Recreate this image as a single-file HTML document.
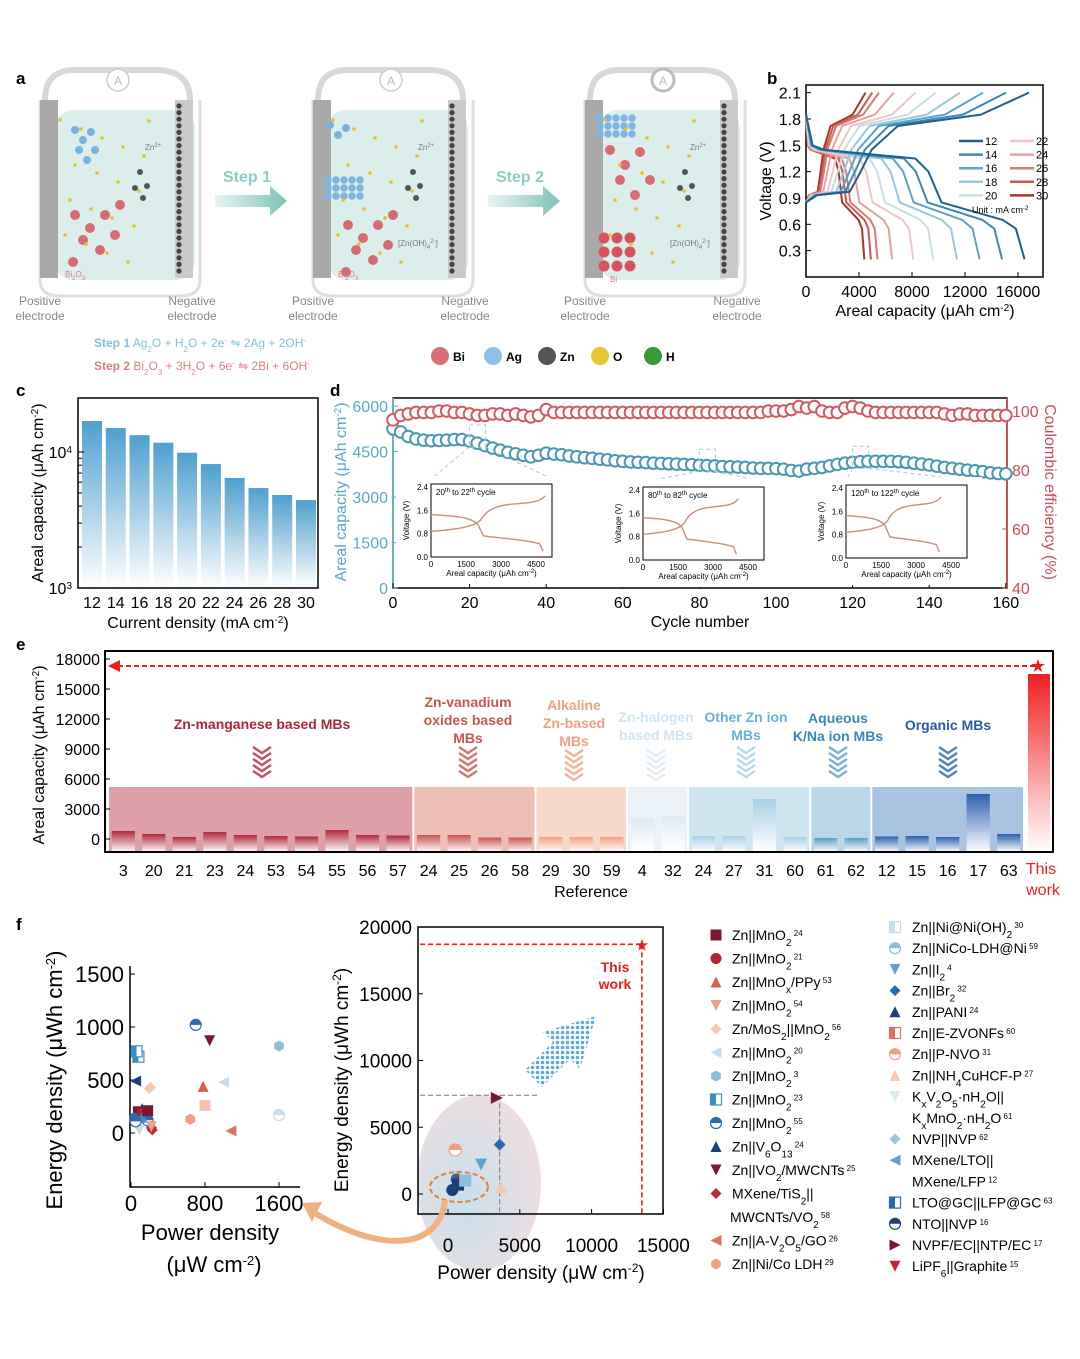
<!DOCTYPE html>
<html><head><meta charset="utf-8">
<style>
html,body{margin:0;padding:0;background:#fff;}
svg{display:block;font-family:"Liberation Sans",Arial,sans-serif;}
</style></head>
<body>
<svg id="fig" width="1080" height="1359" viewBox="0 0 1080 1359" xmlns="http://www.w3.org/2000/svg">
<defs>
<linearGradient id="barC" x1="0" y1="0" x2="0" y2="1"><stop offset="0" stop-color="#4f9fcf"/><stop offset="1" stop-color="#ffffff"/></linearGradient>
<linearGradient id="thisW" x1="0" y1="0" x2="0" y2="1"><stop offset="0" stop-color="#f02020"/><stop offset="1" stop-color="#ffffff"/></linearGradient>
<linearGradient id="arrowG" x1="0" y1="0" x2="1" y2="0"><stop offset="0" stop-color="#eaf5f3"/><stop offset="1" stop-color="#7cc3b8"/></linearGradient>
<radialGradient id="ell" cx="0.4" cy="0.6" r="0.7"><stop offset="0" stop-color="#b9d7e8"/><stop offset="1" stop-color="#efd6d6"/></radialGradient>
<pattern id="dots" width="5" height="5" patternUnits="userSpaceOnUse"><rect width="5" height="5" fill="#fff"/><circle cx="2.5" cy="2.5" r="1.8" fill="#5fa8e0"/></pattern>
</defs>
<g id="panelA"></g>
<g id="panelB"></g>
<g id="panelC"></g>
<g id="panelD"></g>
<g id="panelE"></g>
<g id="panelF"></g>
</svg>
<script>
// ---------- data ----------
const bRates = [12,14,16,18,20,22,24,26,28,30];
const bCapacity = [16500,14800,13100,11400,9600,8100,6500,5400,4900,4400];
const bColors = ["#1f5f8b","#3b87b5","#5ea3c9","#9cc7d9","#c6dfe3","#f2c4c4","#e8a0a0","#d97a76","#c85a50","#a8342c"];
const bDisFrac = [0,0.03,0.08,0.5,0.56,0.62,0.9,0.96,1];
const bDisV = [1.85,1.5,1.45,1.35,1.2,0.85,0.65,0.55,0.2];
const bChaFrac = [0,0.05,0.2,0.25,0.3,0.42,0.8,1.02];
const bChaV = [0.85,0.93,0.97,1.2,1.45,1.72,1.85,2.1];

const cLabels = [12,14,16,18,20,22,24,26,28,30];
const cValues = [16900,15000,13300,11700,9870,8150,6440,5430,4830,4430];

const dCycles = [0,2,4,6,8,10,12,14,16,18,20,22,24,26,28,30,32,34,36,38,40,42,44,46,48,50,52,54,56,58,60,62,64,66,68,70,72,74,76,78,80,82,84,86,88,90,92,94,96,98,100,102,104,106,108,110,112,114,116,118,120,122,124,126,128,130,132,134,136,138,140,142,144,146,148,150,152,154,156,158,160];
const dCapacity = [5250,5150,5000,4920,4880,4860,4870,4880,4900,4900,4850,4780,4700,4620,4550,4480,4430,4380,4330,4380,4450,4420,4400,4360,4330,4300,4280,4250,4230,4200,4180,4160,4150,4140,4120,4110,4100,4090,4080,4070,4050,4040,4030,4010,4000,3990,3980,3960,3950,3950,3940,3920,3880,3860,3920,3950,3980,4030,4080,4120,4150,4170,4180,4180,4180,4180,4170,4150,4120,4090,4060,4020,3980,3950,3920,3890,3870,3840,3800,3780,3770];
const dCE = [97,98.5,99,99.5,99.5,99.5,100,100,99.5,99.5,
99,98.5,98.5,99,99,98.5,99,98.5,98,98.5,
100.5,99.5,99.5,99.5,99.5,99.5,99.5,99.5,99.5,99.5,
99.5,99.5,99.5,99.5,99.5,99.5,99.5,99.5,99.5,99.5,
99.5,99.5,99.5,99.5,99.5,99.5,99.5,99.5,99.5,100,
100,100,100.5,101.5,101,101.5,100,99.5,99.5,101,
101.5,101,100,99.5,99.5,99.5,99.5,99.5,99.5,99.5,
99.5,99.5,99,98.5,99,99,98.5,98.5,98.5,98.5,
98.5];

const eLabels = ["3","20","21","23","24","53","54","55","56","57","24","25","26","58","29","30","59","4","32","24","27","31","60","61","62","12","15","16","17","63"];
const eValues = [800,500,200,700,400,300,250,900,400,350,400,400,150,150,200,200,200,2000,2300,300,300,4000,200,100,100,250,300,200,4500,500];
const eGroup = [0,0,0,0,0,0,0,0,0,0,1,1,1,1,2,2,2,3,3,4,4,4,4,5,5,6,6,6,6,6];
const eThisWork = 16500;

const fLeftX = [80,40,120,220,130,80,60,180,200,230,700,50,90,120,850,180,210,1000,1080,640,1600,1600,800,220,780,50];
const fLeftY = [200,140,230,50,180,720,770,120,420,30,1020,490,30,150,870,210,430,480,20,130,820,170,260,60,440,110];
const fLeftM = ["sq","ci","tr","di","sq","hs","hs","hc","di","di","hc","lt","it","tr","it","sq","di","lt","lt","hx","hx","hc","sq","it","tr","hc"];
const fLeftC = ["#7b1530","#2a6aaf","#1a3f7a","#c0283a","#b22235","#3a8cc4","#3a8cc4","#2a6aaf","#f5c8b0","#c0283a","#2a6aaf","#1a3f7a","#c8dbe8","#3a8cc4","#7b1530","#7b1530","#f5c8b0","#c8dbe8","#e07060","#f0a080","#8cbfdc","#c8dbe8","#f5c0b0","#f0a080","#d9604a","#2a6aaf"];
const fRightX = [3400,3600,500,2300,3700,600,900,700,1200,300];
const fRightY = [7200,3700,3300,2200,500,1100,900,700,1000,300];
const fRightM = ["rt","di","hc","it","tr","ci","it","sq","sq","ci"];
const fRightC = ["#7b1530","#2a6aaf","#f0a080","#5ea3c9","#f5c8b0","#2a6aaf","#c0283a","#1a3f7a","#8cbfdc","#1a3f7a"];
const fThisX = 13500, fThisY = 18700;

const legendL = [["Zn||MnO<tspan baseline-shift='sub' font-size='10'>2</tspan>","24","sq","#7b1530"],["Zn||MnO<tspan baseline-shift='sub' font-size='10'>2</tspan>","21","ci","#b22235"],["Zn||MnO<tspan baseline-shift='sub' font-size='10'>x</tspan>/PPy","53","tr","#d9604a"],["Zn||MnO<tspan baseline-shift='sub' font-size='10'>2</tspan>","54","it","#f0a080"],["Zn/MoS<tspan baseline-shift='sub' font-size='10'>2</tspan>||MnO<tspan baseline-shift='sub' font-size='10'>2</tspan>","56","di","#f5c8b0"],["Zn||MnO<tspan baseline-shift='sub' font-size='10'>2</tspan>","20","lt","#c8dbe8"],["Zn||MnO<tspan baseline-shift='sub' font-size='10'>2</tspan>","3","hx","#8cbfdc"],["Zn||MnO<tspan baseline-shift='sub' font-size='10'>2</tspan>","23","hs","#3a8cc4"],["Zn||MnO<tspan baseline-shift='sub' font-size='10'>2</tspan>","55","hc","#2a6aaf"],["Zn||V<tspan baseline-shift='sub' font-size='10'>6</tspan>O<tspan baseline-shift='sub' font-size='10'>13</tspan>","24","tr","#1a3f7a"],["Zn||VO<tspan baseline-shift='sub' font-size='10'>2</tspan>/MWCNTs","25","it","#7b1530"],["MXene/TiS<tspan baseline-shift='sub' font-size='10'>2</tspan>||","","di","#c0283a"],["MWCNTs/VO<tspan baseline-shift='sub' font-size='10'>2</tspan>","58","",""],["Zn||A-V<tspan baseline-shift='sub' font-size='10'>2</tspan>O<tspan baseline-shift='sub' font-size='10'>5</tspan>/GO","26","lt","#e07060"],["Zn||Ni/Co LDH","29","hx","#f0a080"]];
const legendR = [["Zn||Ni@Ni(OH)<tspan baseline-shift='sub' font-size='10'>2</tspan>","30","hs","#c8dbe8"],["Zn||NiCo-LDH@Ni","59","hc","#8cbfdc"],["Zn||I<tspan baseline-shift='sub' font-size='10'>2</tspan>","4","it","#5ea3c9"],["Zn||Br<tspan baseline-shift='sub' font-size='10'>2</tspan>","32","di","#2a6aaf"],["Zn||PANI","24","tr","#1a3f7a"],["Zn||E-ZVONFs","60","hs","#e07060"],["Zn||P-NVO","31","hc","#f0a080"],["Zn||NH<tspan baseline-shift='sub' font-size='10'>4</tspan>CuHCF-P","27","tr","#f5c8b0"],["K<tspan baseline-shift='sub' font-size='10'>x</tspan>V<tspan baseline-shift='sub' font-size='10'>2</tspan>O<tspan baseline-shift='sub' font-size='10'>5</tspan>·nH<tspan baseline-shift='sub' font-size='10'>2</tspan>O||","","it","#d8ece8"],["K<tspan baseline-shift='sub' font-size='10'>x</tspan>MnO<tspan baseline-shift='sub' font-size='10'>2</tspan>·nH<tspan baseline-shift='sub' font-size='10'>2</tspan>O","61","",""],["NVP||NVP","62","di","#9cc7d9"],["MXene/LTO||","","lt","#5ea3c9"],["MXene/LFP","12","",""],["LTO@GC||LFP@GC","63","hs","#2a6aaf"],["NTO||NVP","16","hc","#1a3f7a"],["NVPF/EC||NTP/EC","17","rt","#7b1530"],["LiPF<tspan baseline-shift='sub' font-size='10'>6</tspan>||Graphite","15","it","#c0283a"]];

// ---------- helpers ----------
const NS="http://www.w3.org/2000/svg";
function el(parent,tag,attrs,text){const e=document.createElementNS(NS,tag);for(const k in attrs)e.setAttribute(k,attrs[k]);if(text!==undefined)e.innerHTML=text;parent.appendChild(e);return e;}
function marker(g,type,x,y,c,s){
  s=s||6;let e;
  if(type==="sq")e=el(g,"rect",{x:x-s,y:y-s,width:2*s,height:2*s,fill:c});
  else if(type==="ci")e=el(g,"circle",{cx:x,cy:y,r:s,fill:c});
  else if(type==="tr")e=el(g,"polygon",{points:`${x},${y-s} ${x+s},${y+s} ${x-s},${y+s}`,fill:c});
  else if(type==="it")e=el(g,"polygon",{points:`${x-s},${y-s} ${x+s},${y-s} ${x},${y+s}`,fill:c});
  else if(type==="di")e=el(g,"polygon",{points:`${x},${y-s} ${x+s},${y} ${x},${y+s} ${x-s},${y}`,fill:c});
  else if(type==="lt")e=el(g,"polygon",{points:`${x-s},${y} ${x+s},${y-s} ${x+s},${y+s}`,fill:c});
  else if(type==="rt")e=el(g,"polygon",{points:`${x+s},${y} ${x-s},${y-s} ${x-s},${y+s}`,fill:c});
  else if(type==="hx"){let p=[];for(let i=0;i<6;i++){const a=Math.PI/3*i+Math.PI/6;p.push((x+s*Math.cos(a)).toFixed(1)+","+(y+s*Math.sin(a)).toFixed(1));}e=el(g,"polygon",{points:p.join(" "),fill:c});}
  else if(type==="hs"){e=el(g,"rect",{x:x-s,y:y-s,width:2*s,height:2*s,fill:"#fff",stroke:c,"stroke-width":1.2});el(g,"rect",{x:x-s,y:y-s,width:s,height:2*s,fill:c});}
  else if(type==="hc"){e=el(g,"circle",{cx:x,cy:y,r:s,fill:"#fff",stroke:c,"stroke-width":1.2});el(g,"path",{d:`M${x-s},${y} A${s},${s} 0 0 1 ${x+s},${y} Z`,fill:c});}
  return e;
}

// ---------- panel a ----------
(function(){
const g=document.getElementById("panelA");
el(g,"text",{x:16,y:84,"font-size":17,"font-weight":"bold"},"a");
const cells=[35,308,580];
cells.forEach((cx,i)=>{
  const cg=el(g,"g",{});
  
  
  el(cg,"path",{d:`M${cx+10},${100} Q${cx+10},${70} ${cx+40},${70} L${cx+120},${70} Q${cx+155},${70} ${cx+155},${100}`,fill:"none",stroke:"#d8d8d8","stroke-width":6});
  el(cg,"circle",{cx:cx+83,cy:80,r:11,fill:"#fff",stroke:i==2?"#bbb":"#ccc","stroke-width":i==2?3:1.5});
  el(cg,"text",{x:cx+83,y:85,"font-size":12,fill:"#bbb","text-anchor":"middle"},"A");
  el(cg,"path",{d:`M${cx+5},${100} L${cx+5},${280} Q${cx+5},${296} ${cx+25},${296} L${cx+145},${296} Q${cx+165},${296} ${cx+165},${280} L${cx+165},${100}`,fill:"none",stroke:"#dedede","stroke-width":3});
  el(cg,"rect",{x:cx+20,y:110,width:140,height:170,rx:18,fill:"#d7ecea",opacity:0.9});
  el(cg,"rect",{x:cx+5,y:100,width:18,height:178,fill:"#a9a9a9"});
  el(cg,"rect",{x:cx+140,y:100,width:18,height:178,fill:"#c9c9c9"});
  for(let k=0;k<26;k++)el(cg,"circle",{cx:cx+144,cy:106+k*6.6,r:2.6,fill:"#444"});
  const ag=i==0?[[40,130],[48,140],[56,132],[44,150],[52,160],[60,150]]:i==1?[[22,125],[30,135],[38,128]]:[];
  ag.forEach(p=>el(cg,"circle",{cx:cx+p[0],cy:p[1],r:4,fill:"#79b3e0"}));
  if(i>0){const yy=i==1?180:118;for(let r=0;r<3;r++)for(let c=0;c<5;c++)el(cg,"circle",{cx:cx+20+c*8,cy:yy+r*8,r:3.7,fill:"#7db6e3"});}
  const bi=i<2?[[40,215],[55,228],[70,215],[48,240],[65,250],[38,262],[80,235],[85,205]]:[[30,150],[45,165],[60,152],[40,180],[55,195],[70,180]];
  bi.forEach(p=>el(cg,"circle",{cx:cx+p[0],cy:p[1]+(i==1?10:0),r:5,fill:"#d66b72"}));
  if(i==2){for(let r=0;r<3;r++)for(let c=0;c<3;c++)el(cg,"circle",{cx:cx+24+c*13,cy:238+r*14,r:5.5,fill:"#d9535e"});}
  for(let k=0;k<18;k++)el(cg,"circle",{cx:cx+25+((k*37)%90),cy:120+((k*53)%150),r:1.8,fill:"#e8c020"});
  [[105,172],[100,188],[112,186],[108,198]].forEach(p=>el(cg,"circle",{cx:cx+p[0],cy:p[1],r:3,fill:"#555"}));
  el(cg,"text",{x:cx+110,y:150,"font-size":8,fill:"#777"},"Zn<tspan baseline-shift='super' font-size='6'>2+</tspan>");
  if(i>0)el(cg,"text",{x:cx+90,y:246,"font-size":8,fill:"#777"},"[Zn(OH)<tspan baseline-shift='sub' font-size='6'>4</tspan><tspan baseline-shift='super' font-size='6'>2-</tspan>]");
  el(cg,"text",{x:cx+30,y:i==2?282:277,"font-size":8,fill:"#e07a80"},i==2?"Bi":"Bi<tspan baseline-shift='sub' font-size='6'>2</tspan>O<tspan baseline-shift='sub' font-size='6'>3</tspan>");
  el(cg,"text",{x:cx+5,y:305,"font-size":12,fill:"#888","text-anchor":"middle"},"Positive");
  el(cg,"text",{x:cx+5,y:320,"font-size":12,fill:"#888","text-anchor":"middle"},"electrode");
  el(cg,"text",{x:cx+157,y:305,"font-size":12,fill:"#888","text-anchor":"middle"},"Negative");
  el(cg,"text",{x:cx+157,y:320,"font-size":12,fill:"#888","text-anchor":"middle"},"electrode");
});
[[215,"Step 1"],[488,"Step 2"]].forEach(s=>{
  el(g,"polygon",{points:`${s[0]},195 ${s[0]+55},195 ${s[0]+55},186 ${s[0]+72},201 ${s[0]+55},216 ${s[0]+55},207 ${s[0]},207`,fill:"url(#arrowG)"});
  el(g,"text",{x:s[0]+32,y:182,"font-size":16,"font-weight":"bold",fill:"#8ccdc3","text-anchor":"middle"},s[1]);
});
el(g,"text",{x:94,y:347,"font-size":12,fill:"#86bcd8"},"<tspan font-weight='bold'>Step 1</tspan>  Ag<tspan baseline-shift='sub' font-size='8'>2</tspan>O + H<tspan baseline-shift='sub' font-size='8'>2</tspan>O + 2e<tspan baseline-shift='super' font-size='8'>-</tspan> ⇋ 2Ag + 2OH<tspan baseline-shift='super' font-size='8'>-</tspan>");
el(g,"text",{x:94,y:370,"font-size":12,fill:"#e27c84"},"<tspan font-weight='bold'>Step 2</tspan>  Bi<tspan baseline-shift='sub' font-size='8'>2</tspan>O<tspan baseline-shift='sub' font-size='8'>3</tspan> + 3H<tspan baseline-shift='sub' font-size='8'>2</tspan>O + 6e<tspan baseline-shift='super' font-size='8'>-</tspan> ⇋ 2Bi + 6OH<tspan baseline-shift='super' font-size='8'>-</tspan>");
[["Bi","#d8707a",440],["Ag","#8cc2e8",493],["Zn","#555",547],["O","#e8c830",600],["H","#3a9a3a",653]].forEach(b=>{
  const bg=el(g,"g",{});
  
  
  el(bg,"circle",{cx:b[2],cy:356,r:9,fill:b[1]});
  el(bg,"text",{x:b[2]+13,y:361,"font-size":12,"font-weight":"bold"},b[0]);
});
})();

// ---------- panel b ----------
(function(){
const g=document.getElementById("panelB");
const X=v=>806+v*0.01325, Y=v=>277-v*87.8;
el(g,"text",{x:767,y:84,"font-size":17,"font-weight":"bold"},"b");
el(g,"rect",{x:806,y:85,width:237,height:192,fill:"none",stroke:"#000","stroke-width":1.5});
[0.3,0.6,0.9,1.2,1.5,1.8,2.1].forEach(v=>{el(g,"line",{x1:806,x2:811,y1:Y(v),y2:Y(v),stroke:"#000"});el(g,"text",{x:801,y:Y(v)+6,"font-size":16,"text-anchor":"end"},v.toFixed(1));});
[0,4000,8000,12000,16000].forEach(v=>{el(g,"line",{x1:X(v),x2:X(v),y1:277,y2:272,stroke:"#000"});el(g,"text",{x:X(v),y:297,"font-size":16,"text-anchor":"middle"},v);});
el(g,"text",{x:925,y:316,"font-size":16,"text-anchor":"middle"},"Areal capacity (μAh cm<tspan baseline-shift='super' font-size='10'>-2</tspan>)");
el(g,"text",{x:0,y:0,"font-size":16,"text-anchor":"middle",transform:"translate(771,181) rotate(-90)"},"Voltage (V)");
for(let i=bRates.length-1;i>=0;i--){
  const C=bCapacity[i];
  const d="M"+bDisFrac.map((f,k)=>X(f*C).toFixed(1)+","+Y(bDisV[k]).toFixed(1)).join(" L");
  const c="M"+bChaFrac.map((f,k)=>X(f*C).toFixed(1)+","+Y(bChaV[k]).toFixed(1)).join(" L");
  const p1=el(g,"path",{d:d,fill:"none",stroke:bColors[i],"stroke-width":2,"stroke-linejoin":"round"});
  
  
  const p2=el(g,"path",{d:c,fill:"none",stroke:bColors[i],"stroke-width":2,"stroke-linejoin":"round"});
  
  
}
bRates.forEach((r,i)=>{
  const col=i<5?0:1, row=i%5;
  const lx=959+col*51, ly=141+row*13.6;
  const lg=el(g,"g",{});
  
  
  el(lg,"line",{x1:lx,x2:lx+24,y1:ly,y2:ly,stroke:bColors[i],"stroke-width":2.5});
  el(lg,"text",{x:lx+26,y:ly+4,"font-size":11},r);
});
el(g,"text",{x:972,y:213,"font-size":9},"Unit : mA cm<tspan baseline-shift='super' font-size='6'>-2</tspan>");
})();

// ---------- panel c ----------
(function(){
const g=document.getElementById("panelC");
const Y=v=>588-(Math.log10(v)-3)*136;
el(g,"text",{x:16,y:396,"font-size":17,"font-weight":"bold"},"c");
const bw=20, step=(306-92)/9;
cValues.forEach((v,i)=>{
  const x=92+step*i;
  const r=el(g,"rect",{x:x-bw/2,y:Y(v),width:bw,height:588-Y(v),fill:"url(#barC)"});
  
  
  el(g,"text",{x:x,y:608,"font-size":16,"text-anchor":"middle"},cLabels[i]);
});
el(g,"rect",{x:78,y:398,width:240,height:190,fill:"none",stroke:"#000","stroke-width":1.5});
el(g,"text",{x:72,y:458,"font-size":16,"text-anchor":"end"},"10<tspan baseline-shift='super' font-size='10'>4</tspan>");
el(g,"text",{x:72,y:594,"font-size":16,"text-anchor":"end"},"10<tspan baseline-shift='super' font-size='10'>3</tspan>");
for(let k=2;k<10;k++){const y=Y(k*1000);el(g,"line",{x1:78,x2:82,y1:y,y2:y,stroke:"#000"});}
el(g,"line",{x1:78,x2:84,y1:Y(10000),y2:Y(10000),stroke:"#000"});
el(g,"text",{x:198,y:628,"font-size":16,"text-anchor":"middle"},"Current density (mA cm<tspan baseline-shift='super' font-size='10'>-2</tspan>)");
el(g,"text",{x:0,y:0,"font-size":16,"text-anchor":"middle",transform:"translate(43,493) rotate(-90)"},"Areal capacity (μAh cm<tspan baseline-shift='super' font-size='10'>-2</tspan>)");
})();

// ---------- panel d ----------
(function(){
const g=document.getElementById("panelD");
const X=v=>393+v*3.83, Y=v=>588-v*0.0303, Y2=v=>588-(v-40)*2.95;
el(g,"text",{x:330,y:396,"font-size":17,"font-weight":"bold"},"d");
el(g,"rect",{x:393,y:398,width:614,height:190,fill:"none",stroke:"#000","stroke-width":1.5});
el(g,"line",{x1:393,x2:393,y1:398,y2:588,stroke:"#6aaed0","stroke-width":2});
el(g,"line",{x1:1007,x2:1007,y1:398,y2:588,stroke:"#c9505a","stroke-width":2});
[0,1500,3000,4500,6000].forEach(v=>{el(g,"text",{x:388,y:Y(v)+6,"font-size":16,fill:"#5aa6cc","text-anchor":"end"},v);el(g,"line",{x1:393,x2:398,y1:Y(v),y2:Y(v),stroke:"#5aa6cc"});});
[40,60,80,100].forEach(v=>{el(g,"text",{x:1012,y:Y2(v)+6,"font-size":16,fill:"#c9505a"},v);el(g,"line",{x1:1002,x2:1007,y1:Y2(v),y2:Y2(v),stroke:"#c9505a"});});
[0,20,40,60,80,100,120,140,160].forEach(v=>{el(g,"text",{x:X(v),y:608,"font-size":16,"text-anchor":"middle"},v);el(g,"line",{x1:X(v),x2:X(v),y1:588,y2:583,stroke:"#000"});});
el(g,"text",{x:700,y:627,"font-size":16,"text-anchor":"middle"},"Cycle number");
el(g,"text",{x:0,y:0,"font-size":16,fill:"#5aa6cc","text-anchor":"middle",transform:"translate(346,492) rotate(-90)"},"Areal capacity (μAh cm<tspan baseline-shift='super' font-size='10'>-2</tspan>)");
el(g,"text",{x:0,y:0,"font-size":16,fill:"#c9505a","text-anchor":"middle",transform:"translate(1045,492) rotate(90)"},"Coulombic efficiency (%)");
el(g,"polyline",{points:dCycles.map((c,i)=>X(c).toFixed(1)+","+(Y(dCapacity[i])+2).toFixed(1)).join(" "),fill:"none",stroke:"#e8c050","stroke-width":9,opacity:0.6});
dCycles.forEach((c,i)=>{
  const p=el(g,"circle",{cx:X(c),cy:Y(dCapacity[i]),r:5.8,fill:"#fff",stroke:"#4a96b8","stroke-width":2});
  
  
  const q=el(g,"circle",{cx:X(c),cy:Y2(dCE[i]),r:5.8,fill:"#fff",stroke:"#d25a60","stroke-width":2});
  
  
});
const insets=[[431,484,"20<tspan baseline-shift='super' font-size='6'>th</tspan> to 22<tspan baseline-shift='super' font-size='6'>th</tspan> cycle",20,4800],[643,487,"80<tspan baseline-shift='super' font-size='6'>th</tspan> to 82<tspan baseline-shift='super' font-size='6'>th</tspan> cycle",80,4000],[846,485,"120<tspan baseline-shift='super' font-size='6'>th</tspan> to 122<tspan baseline-shift='super' font-size='6'>th</tspan> cycle",120,4000]];
insets.forEach((s,k)=>{
  const ig=el(g,"g",{});
  
  
  const x0=s[0],y0=s[1],w=121,h=73;
  const zx=X(s[3])+8, zy=Y(dCapacity[dCycles.indexOf(s[3])])-6;
  el(ig,"rect",{x:zx-8,y:zy-10,width:16,height:22,fill:"none",stroke:"#9dd0c8","stroke-dasharray":"4,3"});
  el(ig,"line",{x1:zx-8,y1:zy+12,x2:x0,y2:y0-5,stroke:"#9dd0c8","stroke-dasharray":"4,3"});
  el(ig,"line",{x1:zx+8,y1:zy+12,x2:x0+w,y2:y0-5,stroke:"#9dd0c8","stroke-dasharray":"4,3"});
  el(ig,"rect",{x:x0-35,y:y0-8,width:w+50,height:h+35,fill:"#fff"});
  el(ig,"rect",{x:x0,y:y0,width:w,height:h,fill:"none",stroke:"#000"});
  const ix=v=>x0+v/4500*105, iy=v=>y0+h-v/2.4*(h-3);
  [0,0.8,1.6,2.4].forEach(v=>el(ig,"text",{x:x0-3,y:iy(v)+3,"font-size":8,"text-anchor":"end"},v.toFixed(1)));
  [0,1500,3000,4500].forEach(v=>el(ig,"text",{x:ix(v),y:y0+h+10,"font-size":8,"text-anchor":"middle"},v));
  el(ig,"text",{x:x0+w/2,y:y0+h+19,"font-size":8,"text-anchor":"middle"},"Areal capacity (μAh cm<tspan baseline-shift='super' font-size='6'>-2</tspan>)");
  el(ig,"text",{x:0,y:0,"font-size":8,"text-anchor":"middle",transform:`translate(${x0-22},${y0+h/2}) rotate(-90)`},"Voltage (V)");
  el(ig,"text",{x:x0+5,y:y0+11,"font-size":8},s[2]);
  const C=s[4];
  el(ig,"path",{d:`M${ix(0)},${iy(1.45)} C${ix(C*0.3)},${iy(1.4)} ${ix(C*0.38)},${iy(1.3)} ${ix(C*0.42)},${iy(1.1)} L${ix(C*0.47)},${iy(0.72)} C${ix(C*0.7)},${iy(0.62)} ${ix(C*0.9)},${iy(0.55)} ${ix(C*0.97)},${iy(0.45)} L${ix(C)},${iy(0.2)}`,fill:"none",stroke:"#c9907a","stroke-width":1.4});
  el(ig,"path",{d:`M${ix(0)},${iy(0.88)} C${ix(C*0.25)},${iy(0.95)} ${ix(C*0.4)},${iy(1.05)} ${ix(C*0.45)},${iy(1.3)} C${ix(C*0.5)},${iy(1.65)} ${ix(C*0.6)},${iy(1.78)} ${ix(C*0.75)},${iy(1.82)} C${ix(C*0.9)},${iy(1.86)} ${ix(C*0.98)},${iy(1.9)} ${ix(C*1.02)},${iy(2.1)}`,fill:"none",stroke:"#c9907a","stroke-width":1.4});
});
})();

// ---------- panel e ----------
(function(){
const g=document.getElementById("panelE");
const Y=v=>839-v*0.01, base=852;
el(g,"text",{x:16,y:650,"font-size":17,"font-weight":"bold"},"e");
const x0=108, x1=1024, n=eLabels.length, st=(x1-x0)/n;
const grpCol=["#dea0a8","#eebfb4","#f8d8c8","#eaf2f8","#cfe6f0","#b8d8ea","#a8c4e0"];
const grpTop=["#b02a3a","#c8564e","#f0a080","#dfeaf3","#a8d0e6","#5aa0cc","#2a62ae"];
const grpNames=["Zn-manganese based MBs","Zn-vanadium<br>oxides based<br>MBs","Alkaline<br>Zn-based<br>MBs","Zn-halogen<br>based MBs","Other Zn ion<br>MBs","Aqueous<br>K/Na ion MBs","Organic MBs"];
const grpTxt=["#a8283a","#c8564e","#f0a080","#d2e4f0","#6ab0d8","#3a88c0","#2a5aa6"];
const grpLabX=[262,468,574,656,746,838,948];
const grpLabY=[729,707,710,722,722,723,730];
for(let gi=0;gi<7;gi++){
  const idx=eGroup.map((v,i)=>v===gi?i:-1).filter(i=>i>=0);
  const a=x0+st*idx[0], b=x0+st*(idx[idx.length-1]+1);
  const r=el(g,"rect",{x:a+1,y:Y(5200),width:b-a-2,height:base-Y(5200),fill:grpCol[gi]});
  
  
  const lines=grpNames[gi].split("<br>");
  lines.forEach((t,li)=>el(g,"text",{x:grpLabX[gi],y:grpLabY[gi]+li*18,"font-size":14,"font-weight":"bold",fill:grpTxt[gi],"text-anchor":"middle"},t));
  for(let c=0;c<5;c++){const cy=747+c*6-(gi==2||gi==3?-3:0);el(g,"polyline",{points:`${grpLabX[gi]-9},${cy} ${grpLabX[gi]},${cy+6} ${grpLabX[gi]+9},${cy}`,fill:"none",stroke:grpTop[gi],"stroke-width":2.5,opacity:0.8});}
}
for(let gi=0;gi<7;gi++){el(g,"linearGradient",{id:"eg"+gi,x1:0,y1:0,x2:0,y2:1},`<stop offset="0" stop-color="${grpTop[gi]}"/><stop offset="1" stop-color="#ffffff"/>`);}
eValues.forEach((v,i)=>{
  const x=x0+st*i+st*0.12;
  const r=el(g,"rect",{x:x,y:Y(v),width:st*0.76,height:base-Y(v),fill:"url(#eg"+eGroup[i]+")"});
  
  
  el(g,"text",{x:x0+st*(i+0.5),y:876,"font-size":16,"text-anchor":"middle"},eLabels[i]);
});
const tw=el(g,"rect",{x:1028,y:Y(eThisWork),width:22,height:base-Y(eThisWork),fill:"url(#thisW)"});


el(g,"text",{x:1041,y:874,"font-size":16,fill:"#ee2020","text-anchor":"middle"},"This");
el(g,"text",{x:1043,y:895,"font-size":16,fill:"#ee2020","text-anchor":"middle"},"work");
el(g,"rect",{x:105,y:651,width:948,height:201,fill:"none",stroke:"#000","stroke-width":2});
el(g,"line",{x1:118,x2:1036,y1:Y(17300),y2:Y(17300),stroke:"#e82020","stroke-width":2,"stroke-dasharray":"5,3"});
el(g,"polygon",{points:`108,${Y(17300)} 120,${Y(17300)-6} 120,${Y(17300)+6}`,fill:"#e82020"});
el(g,"text",{x:1038,y:Y(17300)+6,"font-size":18,fill:"#e82020","text-anchor":"middle"},"★");
[0,3000,6000,9000,12000,15000,18000].forEach(v=>{el(g,"text",{x:100,y:Y(v)+6,"font-size":16,"text-anchor":"end"},v);el(g,"line",{x1:105,x2:110,y1:Y(v),y2:Y(v),stroke:"#000"});});
el(g,"text",{x:591,y:897,"font-size":16,"text-anchor":"middle"},"Reference");
el(g,"text",{x:0,y:0,"font-size":16,"text-anchor":"middle",transform:"translate(44,755) rotate(-90)"},"Areal capacity (μAh cm<tspan baseline-shift='super' font-size='10'>-2</tspan>)");
})();

// ---------- panel f ----------
(function(){
const g=document.getElementById("panelF");
el(g,"text",{x:16,y:930,"font-size":17,"font-weight":"bold"},"f");
const LX=v=>131+v*0.0925, LY=v=>1133-v*0.106;
el(g,"polyline",{points:"130,966 130,1187 300,1187",fill:"none",stroke:"#000","stroke-width":1.5});
[0,500,1000,1500].forEach(v=>{el(g,"text",{x:124,y:LY(v)+8,"font-size":22,"text-anchor":"end"},v);el(g,"line",{x1:130,x2:135,y1:LY(v),y2:LY(v),stroke:"#000"});});
[0,800,1600].forEach(v=>{el(g,"text",{x:LX(v),y:1211,"font-size":22,"text-anchor":"middle"},v);el(g,"line",{x1:LX(v),x2:LX(v),y1:1187,y2:1182,stroke:"#000"});});
el(g,"text",{x:210,y:1240,"font-size":22,"text-anchor":"middle"},"Power density");
el(g,"text",{x:214,y:1272,"font-size":22,"text-anchor":"middle"},"(μW cm<tspan baseline-shift='super' font-size='13'>-2</tspan>)");
el(g,"text",{x:0,y:0,"font-size":22,"text-anchor":"middle",transform:"translate(62,1080) rotate(-90)"},"Energy density (μWh cm<tspan baseline-shift='super' font-size='13'>-2</tspan>)");
fLeftX.forEach((x,i)=>{const m=marker(g,fLeftM[i],LX(x),LY(fLeftY[i]),fLeftC[i],5.5);});
const RX=v=>448+v*0.01436, RY=v=>1194-v*0.01335;
el(g,"ellipse",{cx:479,cy:1183,rx:62,ry:88,fill:"url(#ell)",opacity:0.8});
el(g,"rect",{x:418,y:927,width:245,height:287,fill:"none",stroke:"#000","stroke-width":1.5});
[0,5000,10000,15000,20000].forEach(v=>{el(g,"text",{x:412,y:RY(v)+7,"font-size":19,"text-anchor":"end"},v);el(g,"line",{x1:418,x2:423,y1:RY(v),y2:RY(v),stroke:"#000"});});
[0,5000,10000,15000].forEach(v=>{el(g,"text",{x:RX(v),y:1252,"font-size":19,"text-anchor":"middle"},v);el(g,"line",{x1:RX(v),x2:RX(v),y1:1214,y2:1209,stroke:"#000"});});
el(g,"text",{x:541,y:1279,"font-size":19,"text-anchor":"middle"},"Power density (μW cm<tspan baseline-shift='super' font-size='12'>-2</tspan>)");
el(g,"text",{x:0,y:0,"font-size":19,"text-anchor":"middle",transform:"translate(348,1080) rotate(-90)"},"Energy density (μWh cm<tspan baseline-shift='super' font-size='12'>-2</tspan>)");
el(g,"line",{x1:420,x2:538,y1:RY(7400),y2:RY(7400),stroke:"#777","stroke-dasharray":"5,3"});
el(g,"line",{x1:RX(3600),x2:RX(3600),y1:RY(7400),y2:1214,stroke:"#777","stroke-dasharray":"5,3"});
el(g,"line",{x1:420,x2:RX(fThisX),y1:RY(fThisY),y2:RY(fThisY),stroke:"#e82020","stroke-width":1.6,"stroke-dasharray":"5,3"});
el(g,"line",{x1:RX(fThisX),x2:RX(fThisX),y1:RY(fThisY),y2:1214,stroke:"#e82020","stroke-width":1.6,"stroke-dasharray":"5,3"});
el(g,"text",{x:RX(fThisX),y:RY(fThisY)+6,"font-size":16,fill:"#e82020","text-anchor":"middle"},"★");
el(g,"text",{x:615,y:972,"font-size":14,"font-weight":"bold",fill:"#e82020","text-anchor":"middle"},"This");
el(g,"text",{x:615,y:989,"font-size":14,"font-weight":"bold",fill:"#e82020","text-anchor":"middle"},"work");
el(g,"polygon",{points:"525,1070 553,1042 543,1032 596,1016 580,1069 570,1059 542,1087",fill:"url(#dots)"});
fRightX.forEach((x,i)=>{const m=marker(g,fRightM[i],RX(x),RY(fRightY[i]),fRightC[i],6);});
el(g,"ellipse",{cx:459,cy:1187,rx:29,ry:15,fill:"none",stroke:"#e08030","stroke-width":2,"stroke-dasharray":"5,3"});
el(g,"path",{d:"M445,1200 C440,1250 380,1255 310,1210",fill:"none",stroke:"#f0b080","stroke-width":6});
el(g,"polygon",{points:"302,1203 322,1202 312,1222",fill:"#f0b080"});
legendL.forEach((e,i)=>{
  const y=935+i*23.5;
  const lg=el(g,"g",{});
  
  
  if(e[2])marker(lg,e[2],716,y,e[3],5.5);
  el(lg,"text",{x:e[2]?732:730,y:y+5,"font-size":14},e[0]+(e[1]?"<tspan font-size='8' baseline-shift='super'> "+e[1]+"</tspan>":""));
});
legendR.forEach((e,i)=>{
  const y=927+i*21.2;
  const lg=el(g,"g",{});
  
  
  if(e[2])marker(lg,e[2],895,y,e[3],5.5);
  el(lg,"text",{x:912,y:y+5,"font-size":14},e[0]+(e[1]?"<tspan font-size='8' baseline-shift='super'> "+e[1]+"</tspan>":""));
});
})();
</script>
</body></html>
